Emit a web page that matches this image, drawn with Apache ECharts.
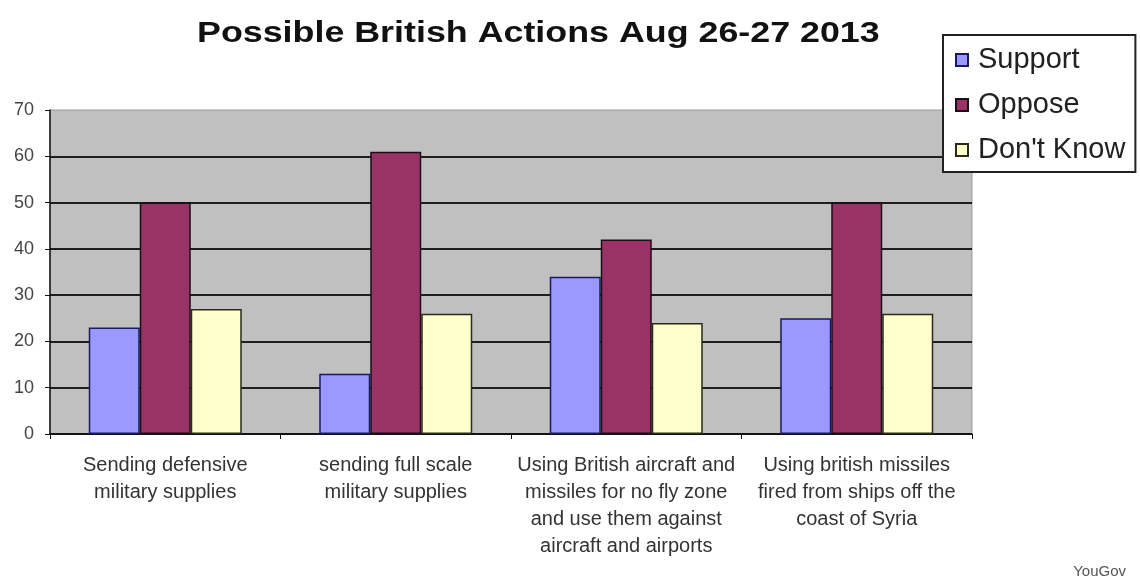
<!DOCTYPE html>
<html>
<head>
<meta charset="utf-8">
<style>
  html, body { margin: 0; padding: 0; background: #ffffff; }
  #chart { width: 1140px; height: 581px; }
</style>
<script src="https://cdn.jsdelivr.net/npm/echarts@6/dist/echarts.min.js"></script>
</head>
<body>
<div id="chart"></div>
<script>
// Survey options (YouGov, Aug 26-27 2013)
const categories = [
  'Sending defensive\nmilitary supplies',
  'sending full scale\nmilitary supplies',
  'Using British aircraft and\nmissiles for no fly zone\nand use them against\naircraft and airports',
  'Using british missiles\nfired from ships off the\ncoast of Syria'
];

// Percentages per response
const support = [23, 13, 34, 25];
const oppose = [50, 61, 42, 50];
const dontKnow = [27, 26, 24, 26];

const yTicks = { min: 0, max: 70, interval: 10 };

const FONT = '"Liberation Sans", Arial, sans-serif';

const chart = echarts.init(document.getElementById('chart'), null, { renderer: 'canvas' });

function barSeries(name, data, fill, border) {
  return {
    name: name,
    type: 'bar',
    data: data,
    barWidth: 51,
    barGap: '0%',
    itemStyle: { color: fill, borderColor: border, borderWidth: 1.5 },
    emphasis: { disabled: true },
    animation: false
  };
}

chart.setOption({
  backgroundColor: '#ffffff',
  animation: false,
  legend: {
    orient: 'vertical',
    left: 943,
    top: 35,
    padding: [10, 10, 7, 12],
    itemWidth: 12,
    itemHeight: 12,
    itemGap: 15,
    icon: 'rect',
    backgroundColor: '#ffffff',
    borderColor: '#222222',
    borderWidth: 2,
    borderRadius: 0,
    textStyle: { fontFamily: FONT, fontSize: 29, color: '#222222', lineHeight: 30, padding: [0, 0, 0, 5] },
    data: ['Support', 'Oppose', "Don't Know"]
  },
  grid: {
    left: 50,
    right: 168,
    top: 110,
    bottom: 147,
    show: true,
    backgroundColor: '#c0c0c0',
    borderColor: '#9a9a9a',
    borderWidth: 1
  },
  xAxis: {
    type: 'category',
    data: categories,
    axisLine: { lineStyle: { color: '#111111', width: 1.5 } },
    axisTick: { show: true, length: 5, alignWithLabel: false, lineStyle: { color: '#111111' } },
    axisLabel: {
      interval: 0,
      margin: 18,
      fontFamily: FONT,
      fontSize: 20,
      lineHeight: 27,
      color: '#333333',
      verticalAlign: 'top'
    }
  },
  yAxis: {
    type: 'value',
    min: yTicks.min,
    max: yTicks.max,
    interval: yTicks.interval,
    axisLine: { show: true, lineStyle: { color: '#111111', width: 1.5 } },
    axisTick: { show: true, length: 5, lineStyle: { color: '#111111' } },
    axisLabel: { fontFamily: FONT, fontSize: 18, color: '#444444', margin: 16 },
    splitLine: { show: true, showMaxLine: false, lineStyle: { color: '#1e1e1e', width: 1.8 } }
  },
  series: [
    barSeries('Support', support, '#9999ff', '#1a1a5c'),
    barSeries('Oppose', oppose, '#993366', '#1a0f14'),
    barSeries("Don't Know", dontKnow, '#ffffcc', '#2a2a1a')
  ],
  graphic: [
    {
      // chart title, drawn slightly widened
      type: 'text',
      x: 197,
      y: 19,
      scaleX: 1.235,
      style: {
        text: 'Possible British Actions Aug 26-27 2013',
        fontFamily: FONT,
        fontWeight: 'bold',
        fontSize: 29,
        fill: '#111111',
        verticalAlign: 'top'
      }
    },
    {
      type: 'text',
      right: 14,
      top: 564,
      style: { text: 'YouGov', fontFamily: FONT, fontSize: 15, fill: '#555555' }
    }
  ]
});
</script>
</body>
</html>
